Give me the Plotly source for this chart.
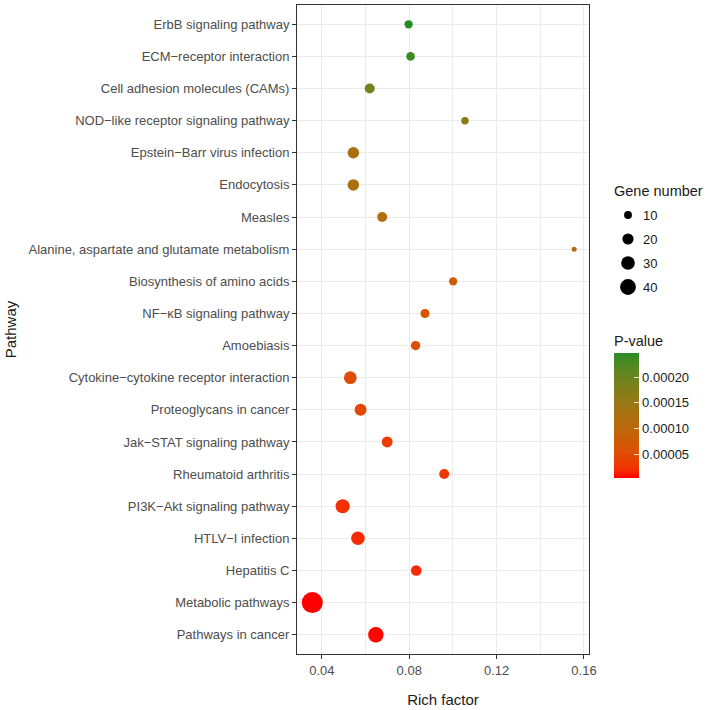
import plotly.graph_objects as go

# ---------------- data ----------------
pathways = [
    "ErbB signaling pathway",
    "ECM\u2212receptor interaction",
    "Cell adhesion molecules (CAMs)",
    "NOD\u2212like receptor signaling pathway",
    "Epstein\u2212Barr virus infection",
    "Endocytosis",
    "Measles",
    "Alanine, aspartate and glutamate metabolism",
    "Biosynthesis of amino acids",
    "NF\u2212\u03baB signaling pathway",
    "Amoebiasis",
    "Cytokine\u2212cytokine receptor interaction",
    "Proteoglycans in cancer",
    "Jak\u2212STAT signaling pathway",
    "Rheumatoid arthritis",
    "PI3K\u2212Akt signaling pathway",
    "HTLV\u2212I infection",
    "Hepatitis C",
    "Metabolic pathways",
    "Pathways in cancer",
]
rich_factor = [0.0797, 0.0806, 0.0619, 0.1055, 0.0544, 0.0544, 0.0676, 0.1555,
               0.1001, 0.0872, 0.0829, 0.0530, 0.0577, 0.0699, 0.0960, 0.0495,
               0.0565, 0.0832, 0.0356, 0.0647]
gene_number = [11, 12, 16, 9, 21, 21, 16, 4, 11, 13, 14, 26, 23, 19, 16, 32, 29, 18, 71, 38]
p_value = [2.47e-4, 2.35e-4, 1.94e-4, 1.62e-4, 1.26e-4, 1.25e-4, 1.16e-4, 1.13e-4,
           7.7e-5, 6.5e-5, 5.5e-5, 5.3e-5, 4.5e-5, 3.3e-5, 2.8e-5, 2.3e-5,
           1.9e-5, 1.8e-5, 4.0e-6, 6.0e-6]

x_ticks = [0.04, 0.08, 0.12, 0.16]
size_legend_values = [10, 20, 30, 40]
p_ticks = [5e-5, 1e-4, 1.5e-4, 2e-4]
p_ticktext = ["0.00005", "0.00010", "0.00015", "0.00020"]

# ---------------- style helpers ----------------
LOW = (255, 0, 0)
HIGH = (38, 140, 38)


def _lin(c):
    c = c / 255.0
    return c / 12.92 if c <= 0.04045 else ((c + 0.055) / 1.055) ** 2.4


def _gam(c):
    c = 12.92 * c if c <= 0.0031308 else 1.055 * c ** (1 / 2.4) - 0.055
    return max(0, min(255, round(c * 255)))


def rgb_to_lab(rgb):
    r, g, b = (_lin(v) for v in rgb)
    X = (0.4124 * r + 0.3576 * g + 0.1805 * b) / 0.95047
    Y = (0.2126 * r + 0.7152 * g + 0.0722 * b)
    Z = (0.0193 * r + 0.1192 * g + 0.9505 * b) / 1.08883

    def f(t):
        return t ** (1 / 3) if t > 0.008856 else 7.787 * t + 16 / 116
    fx, fy, fz = f(X), f(Y), f(Z)
    return (116 * fy - 16, 500 * (fx - fy), 200 * (fy - fz))


def lab_to_rgb(lab):
    L, a, bb = lab
    fy = (L + 16) / 116
    fx = fy + a / 500
    fz = fy - bb / 200

    def finv(t):
        return t ** 3 if t ** 3 > 0.008856 else (t - 16 / 116) / 7.787
    X, Y, Z = finv(fx) * 0.95047, finv(fy), finv(fz) * 1.08883
    r = 3.2406 * X - 1.5372 * Y - 0.4986 * Z
    g = -0.9689 * X + 1.8758 * Y + 0.0415 * Z
    b = 0.0557 * X - 0.2040 * Y + 1.0570 * Z
    return tuple(_gam(max(0, v)) for v in (r, g, b))


lab_lo, lab_hi = rgb_to_lab(LOW), rgb_to_lab(HIGH)
colorscale = []
N = 20
for i in range(N + 1):
    t = i / N
    lab = tuple(lab_lo[k] + t * (lab_hi[k] - lab_lo[k]) for k in range(3))
    r, g, b = lab_to_rgb(lab)
    colorscale.append([t, f"rgb({r},{g},{b})"])

# plotly area mode: diameter = sqrt(2*v/sizeref)  -> diameter ~ 2.5*sqrt(v)
SIZEREF = 2 / (2.5 ** 2)
FONT = "Liberation Sans, Arial, sans-serif"

W, H = 718, 710


def px_x(px):
    return px / W


def px_y(py):
    return 1 - py / H


fig = go.Figure()

fig.add_trace(go.Scatter(
    x=rich_factor,
    y=pathways,
    mode="markers",
    marker=dict(
        size=gene_number,
        sizemode="area",
        sizeref=SIZEREF,
        color=p_value,
        colorscale=colorscale,
        opacity=1,
        line=dict(width=0),
        colorbar=dict(
            x=px_x(614), xanchor="left",
            y=px_y(332), yanchor="top",
            len=146, lenmode="pixels",
            thickness=25, thicknessmode="pixels",
            outlinewidth=0, ypad=0, xpad=0,
            ticks="inside", ticklen=5, tickcolor="rgba(255,255,255,0.8)",
            tickvals=p_ticks, ticktext=p_ticktext,
            tickfont=dict(size=13, color="#1a1a1a", family=FONT),
            title=dict(text="P-value", side="top",
                       font=dict(size=14.5, color="#1a1a1a", family=FONT)),
        ),
    ),
    showlegend=False,
    hoverinfo="skip",
))

# size legend (drawn in a pixel-coordinate overlay axis)
leg_y = [215, 239, 263, 287]
fig.add_trace(go.Scatter(
    x=[628] * len(size_legend_values),
    y=leg_y,
    mode="markers",
    marker=dict(size=size_legend_values, sizemode="area", sizeref=SIZEREF,
                color="black", opacity=1, line=dict(width=0)),
    xaxis="x2", yaxis="y2",
    showlegend=False, hoverinfo="skip",
))

annotations = []
for v, yy in zip(size_legend_values, leg_y):
    annotations.append(dict(x=641, y=yy, xref="x2", yref="y2", text=str(v),
                            showarrow=False, xanchor="left", yanchor="middle",
                            font=dict(size=13, color="#1a1a1a", family=FONT)))
annotations.append(dict(x=612, y=191, xref="x2", yref="y2", text="Gene number",
                        showarrow=False, xanchor="left", yanchor="middle",
                        font=dict(size=14.5, color="#1a1a1a", family=FONT)))

grid = "#EBEBEB"
fig.update_layout(
    width=W, height=H,
    margin=dict(l=0, r=0, t=0, b=0),
    paper_bgcolor="white", plot_bgcolor="rgba(0,0,0,0)",
    font=dict(family=FONT),
    xaxis=dict(
        domain=[px_x(297), px_x(589)],
        range=[0.0286, 0.1623],
        tickvals=x_ticks, tickformat=".2f",
        ticks="outside", ticklen=4, tickcolor="#333333", tickwidth=1,
        tickfont=dict(size=13, color="#4d4d4d", family=FONT),
        showgrid=True, gridcolor=grid, gridwidth=1.1,
        minor=dict(dtick=0.02, tick0=0.02, showgrid=True, gridcolor=grid, gridwidth=0.6),
        showline=True, linecolor="#333333", linewidth=1, mirror=True,
        zeroline=False,
        title=dict(text="Rich factor", standoff=17,
                   font=dict(size=15, color="#1a1a1a", family=FONT)),
        automargin=False,
    ),
    yaxis=dict(
        domain=[px_y(654), px_y(5)],
        type="category",
        categoryorder="array", categoryarray=pathways[::-1],
        range=[-0.6, len(pathways) - 0.4],
        ticks="outside", ticklen=4, tickcolor="#333333", tickwidth=1,
        tickfont=dict(size=13, color="#4d4d4d", family=FONT),
        showgrid=True, gridcolor=grid, gridwidth=1.1,
        showline=True, linecolor="#333333", linewidth=1, mirror=True,
        zeroline=False,
        title=dict(text="Pathway", standoff=8,
                   font=dict(size=15, color="#1a1a1a", family=FONT)),
        automargin=False,
    ),
    xaxis2=dict(domain=[0, 1], range=[0, W], visible=False, fixedrange=True, anchor="y2"),
    yaxis2=dict(domain=[0, 1], range=[H, 0], visible=False, fixedrange=True, anchor="x2"),
    annotations=annotations,
)

fig.write_html("out.html",
               config={"displayModeBar": False},
               post_script="document.body.style.margin='0';document.body.style.overflow='hidden';")
